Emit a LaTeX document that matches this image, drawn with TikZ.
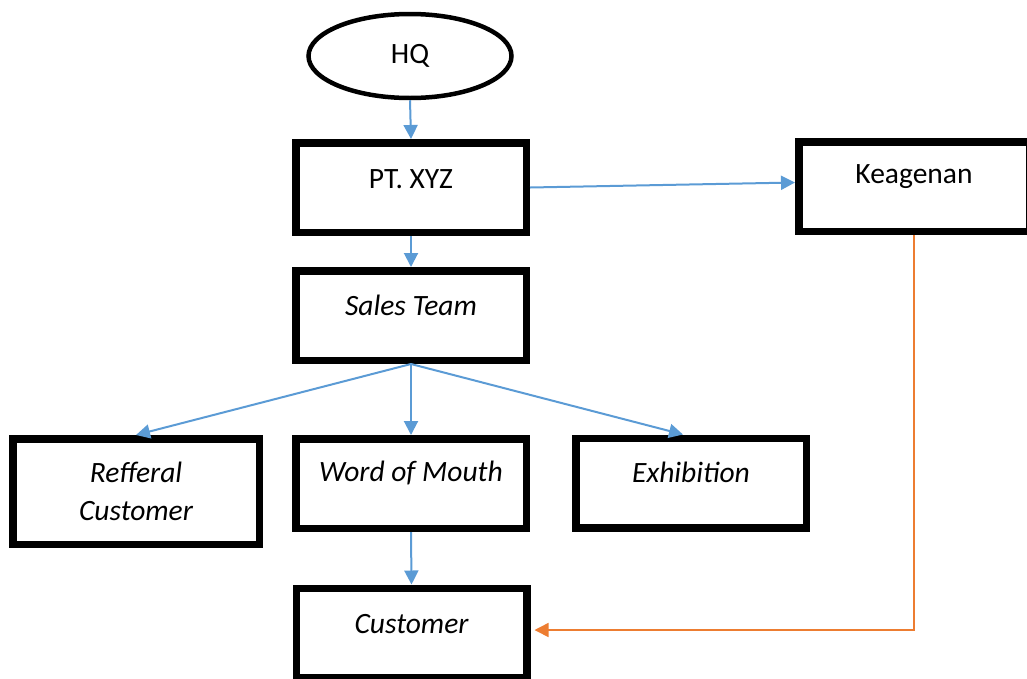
\documentclass[tikz,border=0pt]{standalone}
\usepackage{fontspec}
\setmainfont{Carlito}
\usetikzlibrary{shapes.geometric,arrows.meta}
\definecolor{cblue}{HTML}{5B9BD5}
\definecolor{corange}{HTML}{ED7D31}
\begin{document}
\begin{tikzpicture}[x=1pt,y=-1pt,
  box/.style={draw,line width=7.5pt,inner sep=0pt,minimum width=230.5pt,minimum height=89.5pt},
  lab/.style={font=\fontsize{29.5}{38}\selectfont,align=center},
  ilab/.style={font=\fontsize{29.5}{38}\selectfont\itshape,align=center},
  oval/.style={draw,ellipse,line width=4.5pt,inner sep=0pt,minimum width=203pt,minimum height=84pt,font=\fontsize{29.5}{32}\selectfont},
  barrow/.style={draw=cblue,line width=2pt,-{Triangle[length=14pt,width=14pt]}},
  oarrow/.style={draw=corange,line width=1.6pt,-{Triangle[length=14pt,width=14pt]}}]
\useasboundingbox (0,0) rectangle (1027,678);
\node[oval] (hq) at (410,56) {HQ};
\node[box,label={[lab,yshift=8.5pt]center:PT. XYZ}] (pt) at (411,187.5) {};
\node[box,label={[lab,yshift=9.5pt]center:Keagenan}] (kg) at (914,186.5) {};
\node[box,label={[ilab,yshift=10pt]center:Sales Team}] (st) at (411,315.5) {};
\node[box,minimum width=246.5pt,minimum height=105.5pt,label={[ilab]center:Refferal\\Customer}] (rc) at (136,491.5) {};
\node[box,label={[ilab,yshift=11pt]center:Word of Mouth}] (wm) at (411,483.5) {};
\node[box,label={[ilab,yshift=11pt]center:Exhibition}] (ex) at (691,483) {};
\node[box,label={[ilab,yshift=9pt]center:Customer}] (cu) at (411.5,633) {};
\draw[barrow] (hq.south) -- (pt.north);
\draw[barrow] (pt.east) -- ([yshift=4pt]kg.west);
\draw[barrow] (pt.south) -- (st.north);
\draw[barrow] (st.south) -- (rc.north);
\draw[barrow] (st.south) -- (wm.north);
\draw[barrow] (st.south) -- ([xshift=-8pt]ex.north);
\draw[barrow] (wm.south) -- (cu.north);
\draw[oarrow] (kg.south) |- ([xshift=4pt,yshift=3pt]cu.east);
\end{tikzpicture}
\end{document}
